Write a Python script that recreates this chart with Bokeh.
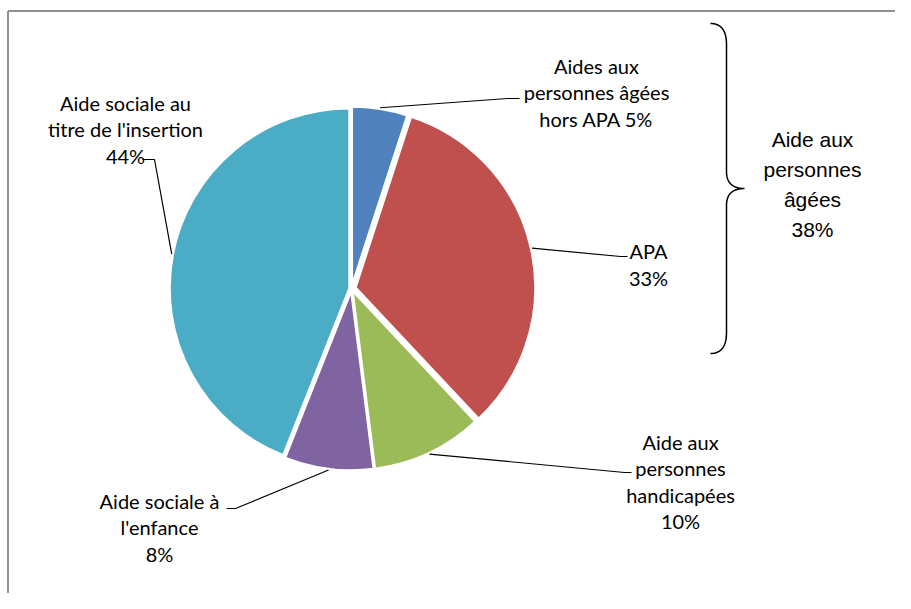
import numpy as np
from bokeh.plotting import figure
from bokeh.models import ColumnDataSource
from bokeh.core.properties import value
from bokeh.embed import file_html
from bokeh.resources import INLINE

# ---------------- data ----------------
categories = [
    "Aides aux\npersonnes âgées\nhors APA 5%",
    "APA\n33%",
    "Aide aux\npersonnes\nhandicapées\n10%",
    "Aide sociale à\nl'enfance\n8%",
    "Aide sociale au\ntitre de l'insertion\n44%",
]
shares = [5, 33, 10, 8, 44]
colors = ["#4F81BD", "#C0504D", "#9BBB59", "#8064A2", "#4BACC6"]
group_label = "Aide aux\npersonnes\nâgées\n38%"

# ---------------- layout (screenshot pixel coords) ----------------
W, H = 895, 593
OFF = 1
def px(X): return X - OFF
def py(Y): return H + OFF - Y

CX, CY, R = 352, 289, 180
explode = np.array([2.0, 4.0, 2.0, 2.0, 2.0])

# label block centres and leader elbows/ends (screenshot coords)
label_pos = [(597, 93), (649, 265), (681, 482), (160, 528), (126, 130)]
leader_mid = [(508, 99), (621, 257), (625, 473), (236, 509), (155, 160)]
leader_end = [(520, 99), (628, 257), (632, 473), (227, 509), (143, 160)]

p = figure(width=W, height=H, x_range=(0, W), y_range=(0, H),
           output_backend="svg", toolbar_location=None, min_border=0)
p.axis.visible = False
p.grid.visible = False
p.outline_line_color = None
p.background_fill_color = "white"

# chart border (left and top edges visible in the reference)
p.line([px(8.5), px(8.5)], [py(11.5), py(620)], line_color="#909090", line_width=2)
p.line([px(8.5), px(920)], [py(11.5), py(11.5)], line_color="#909090", line_width=2)

# pie wedges
total = float(sum(shares))
cum = np.concatenate([[0], np.cumsum(shares)]) / total
start_deg = 90 - cum[:-1] * 360
end_deg = 90 - cum[1:] * 360
mid_rad = np.deg2rad((start_deg + end_deg) / 2)
xs = px(CX) + explode * np.cos(mid_rad)
ys = py(CY) + explode * np.sin(mid_rad)
src = ColumnDataSource(dict(x=xs, y=ys, s=np.deg2rad(start_deg), e=np.deg2rad(end_deg), c=colors))
p.wedge(x="x", y="y", radius=R, start_angle="s", end_angle="e", direction="clock",
        fill_color="c", line_color="white", line_width=2.5, source=src)

# leader lines
for i in range(len(shares)):
    sx = xs[i] + (R + 1) * np.cos(mid_rad[i])
    sy = ys[i] + (R + 1) * np.sin(mid_rad[i])
    mx, my = leader_mid[i]
    ex, ey = leader_end[i]
    p.line([sx, px(mx), px(ex)], [sy, py(my), py(ey)], line_color="black", line_width=1.2)

# labels
lsrc = ColumnDataSource(dict(x=[px(a) for a, b in label_pos], y=[py(b) for a, b in label_pos], t=categories))
p.text(x="x", y="y", text="t", source=lsrc, text_align="center", text_baseline="middle",
       text_font=value("Lato"), text_font_size="20px", text_color="black", text_line_height=1.1)

# brace
def qbez(p0, p1, p2, n=20):
    t = np.linspace(0, 1, n)[:, None]
    return (1 - t) ** 2 * np.array(p0) + 2 * (1 - t) * t * np.array(p1) + t ** 2 * np.array(p2)

bx, btop, bbot, tipx, tipy = 727, 24, 354, 745, 189
pts = np.vstack([
    qbez((711, btop), (bx, btop), (bx, btop + 21)),
    [(bx, tipy - 17)],
    qbez((bx, tipy - 17), (bx, tipy), (tipx, tipy)),
    qbez((tipx, tipy), (bx, tipy), (bx, tipy + 17)),
    [(bx, bbot - 21)],
    qbez((bx, bbot - 21), (bx, bbot), (711, bbot)),
])
p.line(px(pts[:, 0]), py(pts[:, 1]), line_color="black", line_width=1.5)

p.text(x=[px(813)], y=[py(185)], text=[group_label], text_align="center", text_baseline="middle",
       text_font=value("Liberation Sans"), text_font_size="21px", text_color="black", text_line_height=1.3)

open("out.html", "w").write(file_html(p, INLINE))
